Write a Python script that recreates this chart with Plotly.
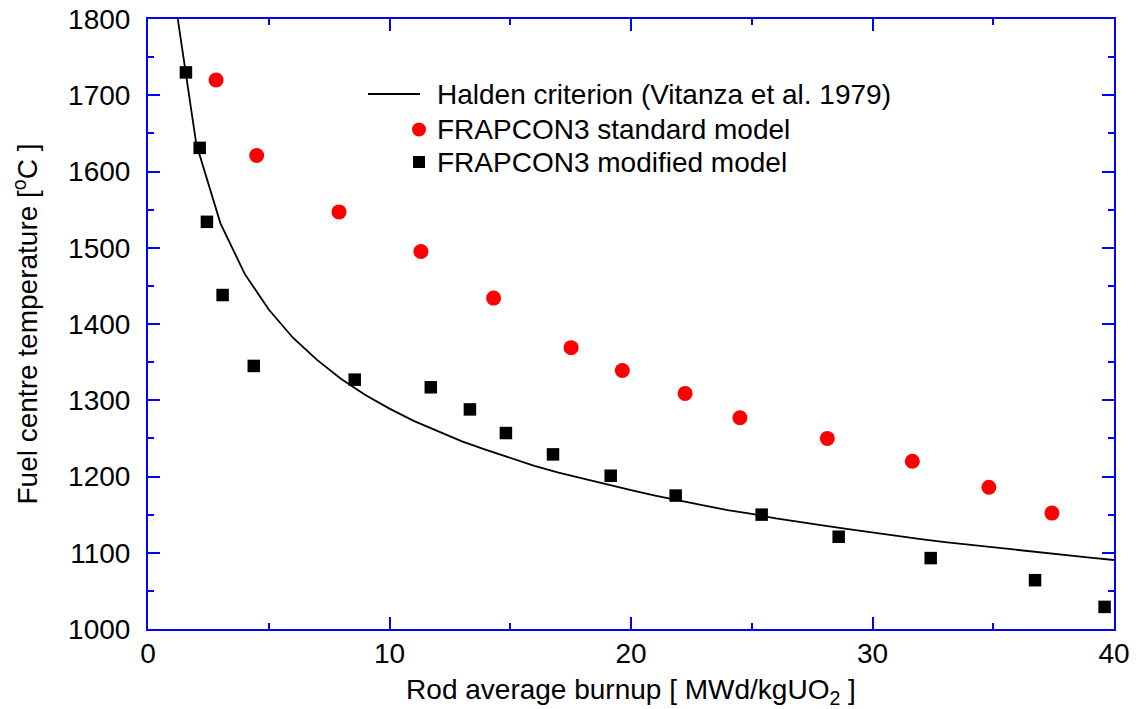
import plotly.graph_objects as go

# Halden fuel-centre temperature criterion (Vitanza et al. 1979), read at integer burnups
halden_burnup = list(range(1, 41))
halden_temp = [1850, 1636, 1532, 1466, 1419, 1382, 1353, 1328, 1307, 1289,
               1273, 1259, 1246, 1235, 1224, 1214, 1205, 1197, 1189, 1182,
               1175, 1168, 1162, 1156, 1151, 1145, 1140, 1135.5, 1131, 1126.5,
               1122, 1118, 1114, 1110.5, 1107, 1103, 1100, 1097, 1093.5, 1090.5]

# FRAPCON3 standard model
std_burnup = [2.82, 4.50, 7.91, 11.30, 14.31, 17.52, 19.64, 22.24, 24.51,
              28.13, 31.65, 34.82, 37.43]
std_temp = [1720, 1621, 1547, 1495, 1434, 1369, 1339, 1309, 1277,
            1250, 1220, 1186, 1152]

# FRAPCON3 modified model
mod_burnup = [1.57, 2.14, 2.44, 3.09, 4.38, 8.56, 11.71, 13.33, 14.82,
              16.77, 19.16, 21.85, 25.41, 28.60, 32.41, 36.73, 39.61]
mod_temp = [1730, 1631, 1534, 1438, 1345, 1327, 1317, 1288, 1257,
            1229, 1201, 1175, 1150, 1121, 1093, 1064, 1029]

legend_labels = ["Halden criterion (Vitanza et al. 1979)",
                 "FRAPCON3 standard model",
                 "FRAPCON3 modified model"]

FONT = "Liberation Sans, Arial, Helvetica, sans-serif"
BLUE = "#0000ff"
W, H = 1136, 709
ML, MR, MT, MB = 148, 22, 19, 80
PW, PH = W - ML - MR, H - MT - MB


def px(x):
    return (x - ML) / PW


def py(y):
    return (H - MB - y) / PH


fig = go.Figure()
fig.add_trace(go.Scatter(x=halden_burnup, y=halden_temp, mode="lines",
                         line=dict(color="black", width=1.8),
                         name=legend_labels[0], showlegend=False))
fig.add_trace(go.Scatter(x=std_burnup, y=std_temp, mode="markers",
                         marker=dict(symbol="circle", size=15, color="#ff0000"),
                         name=legend_labels[1], showlegend=False))
fig.add_trace(go.Scatter(x=mod_burnup, y=mod_temp, mode="markers",
                         marker=dict(symbol="square", size=12.5, color="black"),
                         name=legend_labels[2], showlegend=False))

axis_common = dict(
    showline=True, linecolor=BLUE, linewidth=2, mirror="allticks",
    ticks="inside", ticklen=12, tickwidth=1.5, tickcolor=BLUE,
    showgrid=False, zeroline=False, automargin=False,
    tickfont=dict(family=FONT, size=28, color="black"),
)

fig.update_xaxes(range=[0, 40], dtick=10, tick0=0,
                 minor=dict(ticks="inside", ticklen=6, dtick=5, tick0=0,
                            tickcolor=BLUE, tickwidth=1.5, showgrid=False),
                 ticklabelstandoff=-2,
                 title=dict(text="Rod average burnup [ MWd/kgUO<sub>2</sub> ]",
                            font=dict(family=FONT, size=28, color="black"),
                            standoff=12),
                 **axis_common)
fig.update_yaxes(range=[1000, 1800], dtick=100, tick0=1000,
                 minor=dict(ticks="inside", ticklen=6, dtick=50, tick0=1000,
                            tickcolor=BLUE, tickwidth=1.5, showgrid=False),
                 ticklabelstandoff=10,
                 title=dict(text="Fuel centre temperature [<sup>o</sup>C ]",
                            font=dict(family=FONT, size=28, color="black"),
                            standoff=22),
                 **axis_common)

# Legend drawn in the upper middle of the plot area
shapes = [
    dict(type="line", xref="paper", yref="paper",
         x0=px(368), x1=px(420), y0=py(94), y1=py(94),
         line=dict(color="black", width=1.8)),
    dict(type="circle", xref="paper", yref="paper",
         x0=px(412), x1=px(426), y0=py(136.5), y1=py(122.5),
         fillcolor="#ff0000", line=dict(width=0)),
    dict(type="rect", xref="paper", yref="paper",
         x0=px(413), x1=px(425), y0=py(168), y1=py(156),
         fillcolor="black", line=dict(width=0)),
]
annotations = []
for label, yc in zip(legend_labels, [94, 129.5, 162.5]):
    annotations.append(dict(text=label, xref="paper", yref="paper",
                            x=px(435), y=py(yc), xanchor="left", yanchor="middle",
                            showarrow=False,
                            font=dict(family=FONT, size=28, color="black")))

fig.update_layout(
    width=W, height=H,
    margin=dict(l=ML, r=MR, t=MT, b=MB),
    paper_bgcolor="white", plot_bgcolor="white",
    shapes=shapes, annotations=annotations,
    showlegend=False,
)

fig.write_html("out.html")
